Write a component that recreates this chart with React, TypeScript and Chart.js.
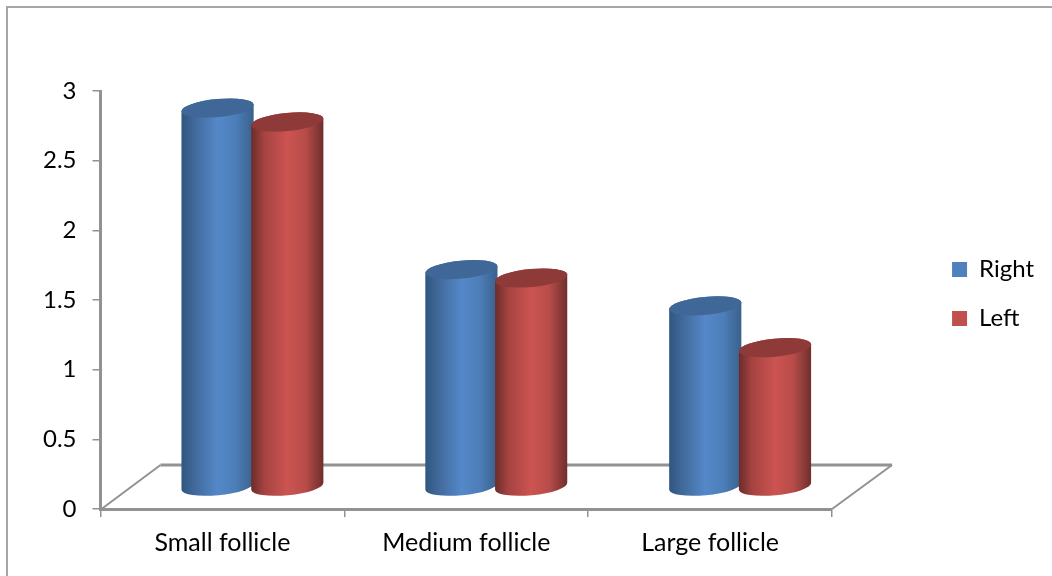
import React, { useEffect, useRef } from "react";
import { Chart, registerables } from "chart.js";

Chart.register(...registerables);

const categories = ["Small follicle", "Medium follicle", "Large follicle"];
const rightValues = [2.72, 1.56, 1.3];
const leftValues = [2.62, 1.5, 1.0];
const yTicks = [0, 0.5, 1, 1.5, 2, 2.5, 3];

const FONT = "Lato";
const AXIS_GREY = "#929292";
const DEPTH_X = 60;
const DEPTH_Y = 44;
const BAR_SHIFT_X = 30;
const BAR_SHIFT_Y = 22;
const TILT = (-5.5 * Math.PI) / 180;
const CAP_RY = 9;
const LEGEND_SHIFT_X = 95;
const LEGEND_SHIFT_Y = -33;

const shades = [
  { stops: ["#30567f", "#41699a", "#5488c8", "#4c7eb8", "#3a618d"], cap: "#3f6797" },
  { stops: ["#6b2c2a", "#a54341", "#cc5451", "#b84c49", "#6f2f2d"], cap: "#8e3a38" },
];

const cylinderPlugin = {
  id: "cylinders",
  afterLayout(chart: any) {
    // The legend sits further out than the plot's reserved margin.
    const legend = chart.legend;
    legend.left += LEGEND_SHIFT_X;
    legend.right += LEGEND_SHIFT_X;
    legend.top += LEGEND_SHIFT_Y;
    legend.bottom += LEGEND_SHIFT_Y;
  },
  beforeDatasetsDraw(chart: any) {
    const { ctx, scales } = chart;
    const x = scales.x;
    const y = scales.y;
    const base = y.getPixelForValue(0);

    // Floor of the 3D plot: back edge and the two receding side edges.
    ctx.save();
    ctx.strokeStyle = AXIS_GREY;
    ctx.lineWidth = 3;
    ctx.beginPath();
    ctx.moveTo(x.left + DEPTH_X, base - DEPTH_Y);
    ctx.lineTo(x.right + DEPTH_X, base - DEPTH_Y);
    ctx.stroke();
    ctx.lineWidth = 2;
    ctx.beginPath();
    ctx.moveTo(x.left + 1, base);
    ctx.lineTo(x.left + DEPTH_X, base - DEPTH_Y);
    ctx.moveTo(x.right + DEPTH_X, base - DEPTH_Y);
    ctx.lineTo(x.right, base);
    ctx.stroke();

    // Each bar becomes a cylinder standing on the floor.
    chart.data.datasets.forEach((_: any, di: number) => {
      const meta = chart.getDatasetMeta(di);
      const shade = shades[di];
      meta.data.forEach((bar: any) => {
        const cx = bar.x + BAR_SHIFT_X;
        const half = bar.width / 2;
        const topY = bar.y - BAR_SHIFT_Y;
        const botY = bar.base - BAR_SHIFT_Y;
        const rx = half / Math.cos(TILT);
        const dy = rx * Math.sin(-TILT);
        const grad = ctx.createLinearGradient(cx - half, 0, cx + half, 0);
        [0, 0.18, 0.5, 0.75, 1].forEach((p, i) => grad.addColorStop(p, shade.stops[i]));
        ctx.fillStyle = grad;
        ctx.beginPath();
        ctx.moveTo(cx - half, topY + dy);
        ctx.lineTo(cx - half, botY + dy);
        ctx.ellipse(cx, botY, rx, CAP_RY, TILT, Math.PI, 0, true);
        ctx.lineTo(cx + half, topY - dy);
        ctx.ellipse(cx, topY, rx, CAP_RY, TILT, 0, Math.PI, true);
        ctx.closePath();
        ctx.fill();
        ctx.fillStyle = shade.cap;
        ctx.beginPath();
        ctx.ellipse(cx, topY, rx, CAP_RY, TILT, 0, Math.PI * 2);
        ctx.fill();
      });
    });
    ctx.restore();
  },
  beforeDatasetDraw() {
    return false;
  },
  beforeDraw(chart: any) {
    // Outer frame of the chart object; its lower edge runs past the canvas.
    const { ctx } = chart;
    ctx.save();
    ctx.fillStyle = "#ffffff";
    ctx.fillRect(0, 0, chart.width, chart.height);
    ctx.strokeStyle = "#a6a6a6";
    ctx.lineWidth = 2;
    ctx.strokeRect(7, 7, chart.width + 20, chart.height + 20);
    ctx.restore();
  },
};

export default function App() {
  const ref = useRef<HTMLCanvasElement>(null);
  useEffect(() => {
    document.body.style.margin = "0";
    const chart = new Chart(ref.current!, {
      type: "bar",
      data: {
        labels: categories,
        datasets: [
          { label: "Right", data: rightValues, backgroundColor: "#4f81bd", categoryPercentage: 0.572, barPercentage: 1.035 },
          { label: "Left", data: leftValues, backgroundColor: "#c0504d", categoryPercentage: 0.572, barPercentage: 1.035 },
        ],
      },
      options: {
        responsive: false,
        animation: false,
        layout: { padding: { top: 91, left: 27, right: 103, bottom: 13 } },
        plugins: {
          title: { display: false },
          tooltip: { enabled: false },
          legend: {
            position: "right",
            labels: {
              boxWidth: 15,
              boxHeight: 15,
              padding: 25,
              color: "#000000",
              font: { family: FONT, size: 24 },
            },
          },
        },
        scales: {
          x: {
            afterFit(axis: any) {
              axis.height -= 6;
            },
            grid: { offset: true, drawOnChartArea: false, color: AXIS_GREY, tickLength: 8, lineWidth: 1.5 },
            border: { color: AXIS_GREY, width: 3 },
            ticks: { color: "#000000", font: { family: FONT, size: 25 }, padding: 11, maxRotation: 0 },
          },
          y: {
            min: 0,
            max: 3,
            afterBuildTicks(axis: any) {
              axis.ticks = yTicks.map((value) => ({ value }));
            },
            grid: { drawOnChartArea: false, color: AXIS_GREY, tickLength: 8, lineWidth: 1.5 },
            border: { color: AXIS_GREY, width: 3 },
            ticks: {
              color: "#000000",
              font: { family: FONT, size: 24 },
              padding: 16,
              callback: (v: any) => String(v),
            },
          },
        },
      },
      plugins: [cylinderPlugin],
    } as any);
    return () => chart.destroy();
  }, []);
  return <canvas ref={ref} width={1052} height={576} style={{ display: "block" }} />;
}
